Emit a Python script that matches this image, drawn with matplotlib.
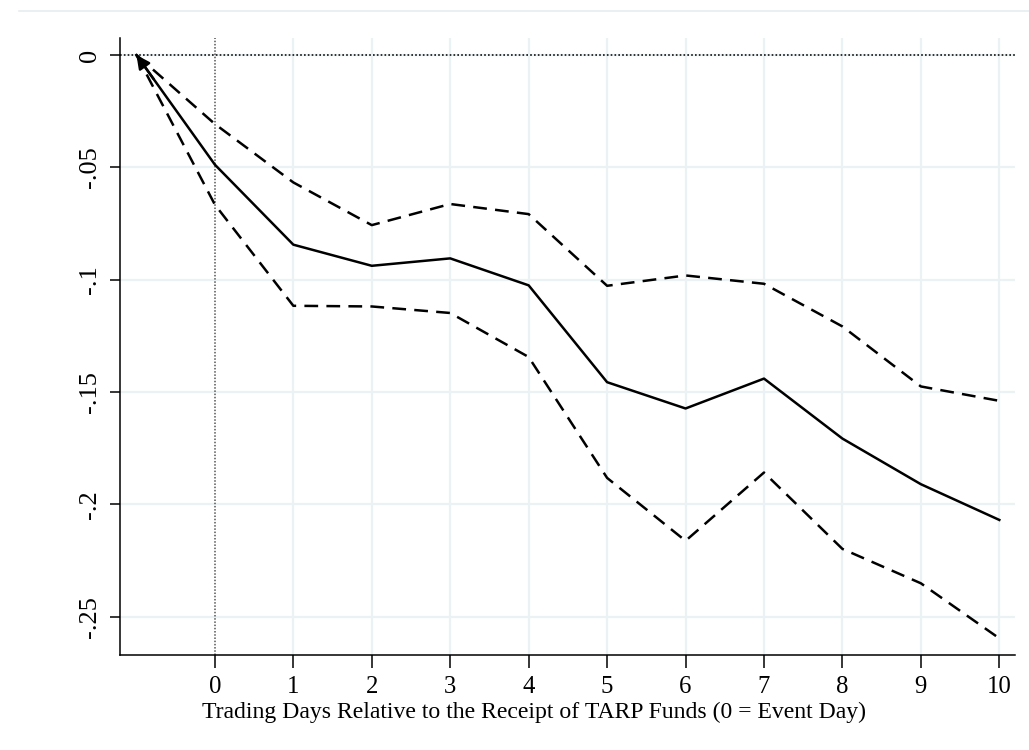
import numpy as np
import matplotlib.pyplot as plt
from matplotlib.lines import Line2D

plt.rcParams['font.family'] = ['Liberation Serif', 'DejaVu Serif']

# trading days relative to TARP receipt
days = [-1, 0, 1, 2, 3, 4, 5, 6, 7, 8, 9, 10]
# cumulative abnormal return and confidence bounds
car = [0, -0.0488, -0.0844, -0.0938, -0.0905, -0.1025, -0.1456, -0.1573,
       -0.1440, -0.1707, -0.1910, -0.2069]
upper = [0, -0.0307, -0.0567, -0.0757, -0.0663, -0.0708, -0.1027, -0.0981,
         -0.1018, -0.1208, -0.1475, -0.1539]
lower = [0, -0.0666, -0.1116, -0.1119, -0.1148, -0.1344, -0.1882, -0.2162,
         -0.1858, -0.2198, -0.2351, -0.2596]

xticks = list(range(0, 11))
yticks = [0, -0.05, -0.1, -0.15, -0.2, -0.25]
ylabels = ['0', '-.05', '-.1', '-.15', '-.2', '-.25']

grid_col = '#EAF2F3'

fig = plt.figure(figsize=(10.29, 7.5), dpi=100)
ax = fig.add_axes([0.1166, 0.1267, 0.8698, 0.8227])

# faint outer frame line at the top
fig.add_artist(Line2D([19 / 1029, 1.0], [1 - 11 / 750, 1 - 11 / 750],
                      color='#E6EEF0', lw=1.2, transform=fig.transFigure))

# grid
for t in xticks[1:]:
    ax.axvline(t, color=grid_col, lw=1.6, zorder=0)
for t in yticks:
    ax.axhline(t, color=grid_col, lw=1.6, zorder=0)

# reference lines
ax.axhline(0, color='#111111', lw=1.2, ls=(0, (1, 1.3)), zorder=1)
ax.axvline(0, color='#555555', lw=1.1, ls=(0, (1, 1.1)), zorder=1)

ax.plot(days, upper, color='black', lw=1.8, ls=(0, (5.5, 3.3)), zorder=3)
ax.plot(days, lower, color='black', lw=1.8, ls=(0, (5.5, 3.3)), zorder=3)
ax.plot(days, car, color='black', lw=1.8, zorder=4)

# arrowhead at the starting point
frac = 0.22
ax.annotate('', xy=(days[0], car[0]),
            xytext=(days[0] + frac * (days[1] - days[0]),
                    car[0] + frac * (car[1] - car[0])),
            arrowprops=dict(arrowstyle='-|>', color='black', lw=1.8,
                            mutation_scale=20, shrinkA=0, shrinkB=0),
            zorder=5)

ax.set_xlim(-1.21, 10.20)
ax.set_ylim(-0.267, 0.0076)

ax.set_xticks(xticks)
ax.set_xticklabels([str(t) for t in xticks])
ax.set_yticks(yticks)
ax.set_yticklabels(ylabels, rotation=90, va='center')

ax.tick_params(axis='x', length=9, width=1.1, pad=6, labelsize=17.8)
ax.tick_params(axis='y', length=7.5, width=1.1, pad=6, labelsize=19)

for s in ['top', 'right']:
    ax.spines[s].set_visible(False)
for s in ['left', 'bottom']:
    ax.spines[s].set_linewidth(1.1)
    ax.spines[s].set_color('black')

ax.set_xlabel('Trading Days Relative to the Receipt of TARP Funds (0 = Event Day)',
              fontsize=17.1, va='baseline')
ax.xaxis.set_label_coords(0.463, -0.102)

plt.savefig('out.png', dpi=100)
